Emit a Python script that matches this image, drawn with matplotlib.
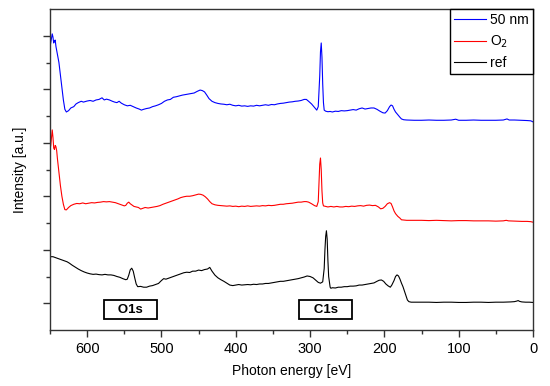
import matplotlib
matplotlib.use("Agg")
import matplotlib.pyplot as plt
from matplotlib.ticker import MultipleLocator, NullFormatter, FixedLocator

plt.rcParams['font.family'] = ['Liberation Sans', 'DejaVu Sans']

# ---- data (photon energy in eV, intensity in arbitrary units, offset traces) ----
energy_50nm = [650, 648, 647, 646, 645, 644, 643, 642, 641, 638, 635, 632, 630, 628, 625, 622, 618, 615, 612, 608,
               605, 600, 596, 592, 588, 584, 580, 577, 574, 570, 566, 563, 560, 557, 554, 550, 546, 542, 538, 534,
               530, 527, 524, 520, 516, 512, 508, 504, 500, 496, 492, 488, 484, 480, 476, 472, 468, 464, 460, 456,
               452, 448, 445, 442, 439, 436, 432, 428, 424, 420, 416, 412, 408, 404, 400, 396, 392, 388, 384, 380,
               376, 372, 368, 364, 360, 356, 352, 348, 344, 340, 336, 332, 328, 324, 320, 316, 312, 308, 305, 302,
               298, 294, 291, 289, 287, 286, 285, 284, 283, 282, 281, 279, 276, 273, 270, 266, 262, 258, 254, 250,
               246, 242, 238, 234, 230, 226, 222, 218, 214, 210, 206, 202, 199, 196, 193, 191, 189, 187, 185, 182,
               179, 177, 174, 170, 160, 150, 140, 130, 120, 110, 104, 102, 100, 90, 80, 70, 60, 50, 40, 35,
               32, 25, 15, 8, 3, 0]
intensity_50nm = [10.58, 10.9, 11.07, 10.95, 10.73, 10.8, 10.84, 10.6, 10.45, 10.0, 9.3, 8.6, 8.25, 8.15, 8.2, 8.3, 8.35, 8.45, 8.5, 8.55,
                  8.52, 8.56, 8.58, 8.55, 8.6, 8.62, 8.68, 8.6, 8.63, 8.6, 8.55, 8.52, 8.5, 8.55, 8.48, 8.42, 8.38, 8.40, 8.35, 8.3,
                  8.26, 8.22, 8.25, 8.28, 8.3, 8.35, 8.38, 8.42, 8.47, 8.55, 8.6, 8.62, 8.7, 8.72, 8.75, 8.78, 8.8, 8.82, 8.84, 8.86,
                  8.92, 8.97, 8.95, 8.9, 8.78, 8.65, 8.55, 8.5, 8.47, 8.45, 8.44, 8.42, 8.44, 8.40, 8.38, 8.40, 8.37, 8.38, 8.36, 8.38,
                  8.37, 8.40, 8.38, 8.40, 8.42, 8.40, 8.43, 8.42, 8.45, 8.47, 8.48, 8.50, 8.52, 8.53, 8.55, 8.56, 8.58, 8.62, 8.62, 8.55,
                  8.45, 8.32, 8.22, 8.35, 9.5, 10.4, 10.73, 10.2, 9.2, 8.5, 8.22, 8.18, 8.16, 8.17, 8.15, 8.18, 8.17, 8.2, 8.19, 8.2,
                  8.22, 8.24, 8.22, 8.27, 8.3, 8.26, 8.28, 8.3, 8.3, 8.25, 8.18, 8.12, 8.11, 8.2, 8.35, 8.41, 8.38, 8.25, 8.15, 8.05,
                  7.95, 7.89, 7.86, 7.85, 7.84, 7.84, 7.85, 7.84, 7.84, 7.85, 7.88, 7.86, 7.84, 7.84, 7.85, 7.84, 7.84, 7.84, 7.85, 7.89,
                  7.85, 7.85, 7.84, 7.83, 7.82, 7.78]

energy_o2 = [650, 649, 648, 647, 646, 645, 644, 643, 642, 641, 640, 638, 636, 634, 632, 630, 628, 625, 622, 618,
             614, 610, 606, 602, 598, 594, 590, 586, 582, 578, 574, 570, 566, 562, 558, 554, 550, 548, 546, 544,
             542, 540, 537, 534, 531, 528, 525, 522, 518, 514, 510, 506, 502, 498, 494, 490, 486, 482, 478, 474,
             470, 466, 462, 458, 454, 450, 447, 444, 441, 438, 435, 432, 428, 424, 420, 416, 412, 408, 404, 400,
             396, 392, 388, 384, 380, 376, 372, 368, 364, 360, 356, 352, 348, 344, 340, 336, 332, 328, 324, 320,
             316, 312, 308, 305, 302, 298, 294, 291, 289, 288, 287, 286, 285, 284, 283, 282, 279, 276, 272, 268,
             264, 260, 256, 252, 248, 244, 240, 236, 232, 228, 224, 220, 216, 212, 208, 205, 202, 199, 196, 193,
             191, 189, 187, 185, 182, 179, 177, 174, 170, 160, 150, 140, 130, 120, 110, 100, 90, 80, 70, 60,
             50, 40, 36, 33, 25, 15, 8, 3, 0]
intensity_o2 = [6.73, 6.9, 7.2, 7.48, 7.2, 6.8, 6.75, 6.9, 6.85, 6.7, 6.4, 5.9, 5.4, 5.0, 4.7, 4.5, 4.49, 4.58, 4.65, 4.7,
                4.73, 4.72, 4.75, 4.72, 4.74, 4.76, 4.75, 4.77, 4.78, 4.8, 4.79, 4.8, 4.78, 4.76, 4.72, 4.68, 4.64, 4.66, 4.74, 4.78,
                4.72, 4.68, 4.62, 4.6, 4.58, 4.52, 4.55, 4.58, 4.56, 4.58, 4.6, 4.62, 4.65, 4.7, 4.74, 4.78, 4.82, 4.86, 4.9, 4.95,
                4.98, 5.0, 5.0, 5.02, 5.05, 5.08, 5.07, 5.04, 4.98, 4.9, 4.8, 4.72, 4.68, 4.66, 4.65, 4.64, 4.63, 4.64, 4.62, 4.63,
                4.61, 4.63, 4.62, 4.64, 4.62, 4.63, 4.64, 4.63, 4.65, 4.64, 4.66, 4.65, 4.66, 4.68, 4.7, 4.7, 4.72, 4.73, 4.74, 4.76,
                4.78, 4.78, 4.8, 4.8, 4.78, 4.72, 4.65, 4.62, 4.8, 5.5, 6.2, 6.43, 6.0, 5.2, 4.75, 4.64, 4.62, 4.6, 4.62, 4.6,
                4.62, 4.6, 4.6, 4.62, 4.61, 4.63, 4.62, 4.64, 4.65, 4.63, 4.66, 4.67, 4.65, 4.66, 4.6, 4.53, 4.55, 4.62, 4.72, 4.76,
                4.73, 4.6, 4.45, 4.35, 4.25, 4.18, 4.12, 4.11, 4.1, 4.1, 4.1, 4.09, 4.1, 4.09, 4.08, 4.09, 4.09, 4.08, 4.08, 4.08,
                4.07, 4.08, 4.1, 4.08, 4.07, 4.06, 4.06, 4.05, 4.03]

energy_ref = [650, 646, 642, 638, 634, 630, 627, 624, 620, 616, 612, 608, 604, 600, 596, 592, 588, 584, 580, 576,
              572, 568, 564, 560, 556, 552, 548, 546, 544, 542, 540, 538, 536, 534, 532, 528, 524, 520, 516, 512,
              508, 504, 500, 497, 494, 490, 486, 482, 478, 474, 470, 466, 462, 458, 454, 450, 446, 442, 438, 435,
              432, 428, 424, 420, 416, 412, 408, 404, 400, 396, 392, 388, 384, 380, 376, 372, 368, 364, 360, 356,
              352, 348, 344, 340, 336, 332, 328, 324, 320, 316, 312, 308, 304, 300, 296, 292, 289, 286, 283, 281,
              280, 279, 278, 277, 276, 275, 273, 272, 270, 266, 262, 258, 254, 250, 246, 242, 238, 234, 230, 226,
              222, 218, 214, 210, 207, 204, 201, 198, 195, 192, 190, 187, 185, 183, 181, 179, 177, 175, 173, 171,
              169, 167, 164, 160, 150, 140, 130, 120, 110, 100, 90, 80, 70, 60, 50, 40, 30, 25, 22, 20,
              18, 15, 10, 5, 0]
intensity_ref = [2.74, 2.74, 2.7, 2.66, 2.62, 2.58, 2.55, 2.5, 2.42, 2.35, 2.28, 2.22, 2.17, 2.13, 2.1, 2.08, 2.09, 2.07, 2.06, 2.08,
                 2.06, 2.06, 2.04, 2.0, 1.97, 1.92, 1.88, 1.9, 2.05, 2.25, 2.31, 2.2, 1.95, 1.72, 1.62, 1.63, 1.6, 1.6, 1.64, 1.66,
                 1.7, 1.74, 1.85, 1.92, 1.9, 1.94, 1.98, 2.02, 2.06, 2.1, 2.14, 2.16, 2.15, 2.2, 2.2, 2.24, 2.22, 2.26, 2.28, 2.34,
                 2.2, 2.05, 1.95, 1.88, 1.82, 1.75, 1.68, 1.66, 1.68, 1.7, 1.68, 1.69, 1.7, 1.69, 1.71, 1.7, 1.72, 1.72, 1.74, 1.74,
                 1.76, 1.78, 1.8, 1.82, 1.82, 1.84, 1.86, 1.88, 1.9, 1.92, 1.95, 1.98, 2.02, 2.0, 1.95, 1.85, 1.78, 1.75, 1.8, 2.3,
                 3.0, 3.5, 3.71, 3.4, 2.6, 2.0, 1.6, 1.56, 1.58, 1.57, 1.6, 1.6, 1.62, 1.62, 1.64, 1.64, 1.65, 1.68, 1.68, 1.7,
                 1.72, 1.74, 1.76, 1.82, 1.86, 1.87, 1.82, 1.72, 1.65, 1.6, 1.68, 1.85, 2.0, 2.06, 2.02, 1.9, 1.75, 1.62, 1.45, 1.28,
                 1.12, 1.06, 1.04, 1.04, 1.04, 1.04, 1.03, 1.04, 1.04, 1.03, 1.03, 1.04, 1.04, 1.03, 1.04, 1.04, 1.05, 1.06, 1.08, 1.1,
                 1.07, 1.05, 1.04, 1.04, 1.03]

series_labels = ["50 nm", "O$_2$", "ref"]
series_colors = ["#0000ff", "#ff0000", "#000000"]

peak_labels = ["O1s", "C1s"]
peak_energies = [542, 279]
peak_label_level = 0.76

x_ticks = [600, 500, 400, 300, 200, 100, 0]

# ---- figure ----
fig = plt.figure(figsize=(5.5, 3.86), dpi=100)
ax = fig.add_axes([50/550, 56/386, 483/550, 321/386])

series = [(energy_50nm, intensity_50nm), (energy_o2, intensity_o2), (energy_ref, intensity_ref)]
for (e, v), lab, col in zip(series, series_labels, series_colors):
    ax.plot(e, v, color=col, lw=0.8, label=lab)

ax.set_xlim(650, 0)
ax.set_ylim(0, 12)
ax.xaxis.set_major_locator(FixedLocator(x_ticks))
ax.xaxis.set_minor_locator(MultipleLocator(50))
ax.yaxis.set_major_locator(FixedLocator([1, 3, 5, 7, 9, 11]))
ax.yaxis.set_minor_locator(FixedLocator([2, 4, 6, 8, 10]))
ax.yaxis.set_major_formatter(NullFormatter())
ax.tick_params(which='major', direction='out', length=5, width=1, color='#333333', labelsize=10.5)
ax.tick_params(which='minor', direction='out', length=3, width=1, color='#333333')
for s in ax.spines.values():
    s.set_color('#333333')
    s.set_linewidth(1.0)

ax.set_xlabel("Photon energy [eV]", fontsize=10, labelpad=6)
ax.set_ylabel("Intensity [a.u.]", fontsize=10, labelpad=8)

for lab, en in zip(peak_labels, peak_energies):
    ax.text(en, peak_label_level, "   " + lab + "   ", ha='center', va='center', fontsize=9.5, fontweight='bold',
            bbox=dict(boxstyle='square,pad=0.25', facecolor='white', edgecolor='black', linewidth=1.3))

leg = ax.legend(loc='upper right', fontsize=10, frameon=True, fancybox=False, edgecolor='black',
                framealpha=1, borderaxespad=0, handlelength=2.3, labelspacing=0.45, borderpad=0.3,
                handletextpad=0.3)
leg.get_frame().set_linewidth(1.0)

fig.savefig("out.png", dpi=100)
